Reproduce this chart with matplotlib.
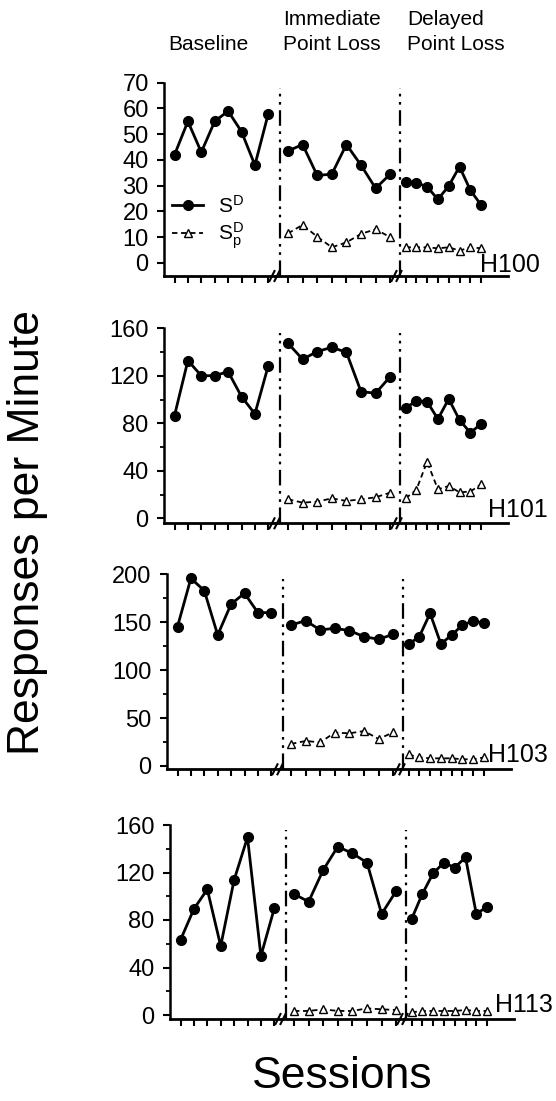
import numpy as np
import matplotlib.pyplot as plt
from matplotlib.lines import Line2D

plt.rcParams['font.family'] = ['Liberation Sans', 'DejaVu Sans']
plt.rcParams['mathtext.fontset'] = 'custom'
plt.rcParams['mathtext.rm'] = 'Liberation Sans'
plt.rcParams['mathtext.it'] = 'Liberation Sans:italic'

W, H = 556, 1101

# data (responses per minute, 8 sessions per phase)
sessions = np.arange(1, 9)
phases = ['Baseline', 'Immediate', 'Delayed']
subjects = ['H100', 'H101', 'H103', 'H113']

h100_sd_base = [42, 55, 43, 55, 59, 51, 38, 58]
h100_sd_ipl = [43.5, 46, 34, 34.5, 46, 38, 29, 34.5]
h100_sd_dpl = [31.6, 31.2, 29.6, 24.7, 29.9, 37.4, 28.3, 22.5]
h100_sdp_ipl = [11.5, 14.8, 10.2, 6.1, 8.0, 11.3, 13.1, 10.0]
h100_sdp_dpl = [6.1, 6.1, 6.1, 5.7, 6.1, 4.8, 6.1, 5.7]

h101_sd_base = [86.5, 132.8, 120.1, 120.1, 123.5, 102.5, 87.9, 128.6]
h101_sd_ipl = [147.4, 133.9, 140.4, 144.0, 139.8, 106.7, 105.3, 119.3]
h101_sd_dpl = [92.6, 99.1, 98.2, 83.6, 100.5, 82.8, 72.1, 79.4]
h101_sdp_ipl = [16.0, 13.2, 14.0, 16.8, 14.6, 16.0, 17.7, 21.6]
h101_sdp_dpl = [16.8, 23.9, 47.7, 24.4, 27.2, 21.9, 22.5, 28.6]

h103_sd_base = [145.4, 195.8, 182.9, 136.7, 169.0, 180.2, 160.0, 160.0]
h103_sd_ipl = [147.1, 151.6, 141.9, 143.7, 141.2, 135.0, 132.2, 137.4]
h103_sd_dpl = [126.9, 135.0, 159.3, 127.3, 136.7, 147.1, 151.3, 148.9]
h103_sdp_ipl = [23.0, 26.1, 24.7, 34.8, 34.1, 36.5, 28.2, 35.1]
h103_sdp_dpl = [12.0, 9.0, 8.0, 8.0, 8.0, 7.0, 7.0, 9.0]

h113_sd_base = [63.2, 89.3, 105.8, 58.1, 113.7, 149.6, 49.7, 89.8]
h113_sd_ipl = [101.9, 95.4, 122.1, 141.8, 136.1, 128.3, 85.1, 104.4]
h113_sd_dpl = [80.6, 101.9, 119.3, 128.3, 124.1, 132.8, 85.1, 91.2]
h113_sdp_ipl = [3.4, 3.4, 4.8, 3.4, 3.4, 5.6, 4.8, 4.2]
h113_sdp_dpl = [2.2, 3.4, 3.4, 3.4, 3.4, 4.2, 3.4, 3.4]

sd = {
    'H100': [h100_sd_base, h100_sd_ipl, h100_sd_dpl],
    'H101': [h101_sd_base, h101_sd_ipl, h101_sd_dpl],
    'H103': [h103_sd_base, h103_sd_ipl, h103_sd_dpl],
    'H113': [h113_sd_base, h113_sd_ipl, h113_sd_dpl],
}
sdp = {
    'H100': [None, h100_sdp_ipl, h100_sdp_dpl],
    'H101': [None, h101_sdp_ipl, h101_sdp_dpl],
    'H103': [None, h103_sdp_ipl, h103_sdp_dpl],
    'H113': [None, h113_sdp_ipl, h113_sdp_dpl],
}

# y axis setup per subject: top value, major ticks, minor step
ytop = {'H100': 70, 'H101': 160, 'H103': 200, 'H113': 160}
ymajor = {'H100': 10, 'H101': 40, 'H103': 50, 'H113': 40}
yminor = {'H100': None, 'H101': 20, 'H103': 25, 'H113': 20}

# layout in pixels (spine x, top px, zero px, axis px, label right, label bottom)
layout = {
    'H100': (164, 82.7, 263, 276, 540, 272),
    'H101': (164, 328.3, 518.3, 523.3, 548, 517),
    'H103': (167, 574.3, 766, 769.3, 548, 762),
    'H113': (170, 825, 1015, 1019, 553, 1012),
}
# phase geometry relative to the y spine: start, end, first point, spacing, phase line
phase_geom = [
    (0, 112, 10.5, 13.4, None),
    (112, 234, 124, 14.6, 116),
    (234, 344, 241.5, 10.8, 235.5),
]


def fx(x):
    return x / W


def fy(y):
    return 1 - y / H


fig = plt.figure(figsize=(W / 100, H / 100), dpi=100)

for subj in subjects:
    sx, top_px, zero_px, axis_px, lab_r, lab_b = layout[subj]
    ppu = (zero_px - top_px) / ytop[subj]
    ybottom = -(axis_px - zero_px) / ppu
    for k, (x0, x1, first, step, line) in enumerate(phase_geom):
        ax = fig.add_axes([fx(sx + x0), fy(axis_px), (x1 - x0) / W, (axis_px - top_px) / H])
        left = 1 - (first - x0) / step
        ax.set_xlim(left, left + (x1 - x0) / step)
        ax.set_ylim(ybottom, ytop[subj])
        ax.patch.set_visible(False)
        for s in ['top', 'right']:
            ax.spines[s].set_visible(False)
        ax.spines['bottom'].set_linewidth(2.0)
        ax.set_xticks(sessions)
        ax.set_xticklabels([])
        ax.tick_params(axis='x', direction='out', length=5, width=1.5)
        if k == 0:
            ax.spines['left'].set_linewidth(1.8)
            ax.set_yticks(np.arange(0, ytop[subj] + 1, ymajor[subj]))
            if yminor[subj]:
                ax.set_yticks(np.arange(0, ytop[subj] + 1, yminor[subj]), minor=True)
            ax.tick_params(axis='y', which='major', direction='out', length=5,
                           width=1.5, labelsize=17, pad=6)
            ax.tick_params(axis='y', which='minor', direction='out', length=3, width=1.3)
        else:
            ax.spines['left'].set_visible(False)
            ax.set_yticks([])
            ax.axvline(1 - (first - line) / step, ymin=0, ymax=0.975, color='black',
                       lw=1.6, linestyle=(0, (7, 2.5, 1.2, 2.5, 1.2, 2.5)))
        ax.plot(sessions, sd[subj][k], '-o', color='black', lw=2.0, ms=7, clip_on=False)
        if sdp[subj][k] is not None:
            ax.plot(sessions, sdp[subj][k], '--^', color='black', lw=1.3, ms=5.5,
                    mfc='white', mew=1.0, dashes=(3, 2), clip_on=False)
        if subj == 'H100' and k == 0:
            handles = [
                Line2D([], [], color='black', lw=2.0, marker='o', ms=7),
                Line2D([], [], color='black', lw=1.3, marker='^', ms=5.5, mfc='white',
                       mew=1.0, dashes=(3, 2)),
            ]
            ax.legend(handles, [r'S$^{\mathrm{D}}$', r'S$^{\mathrm{D}}_{\mathrm{p}}$'],
                      loc='center left', bbox_to_anchor=(fx(172), fy(223)),
                      bbox_transform=fig.transFigure, frameon=False, fontsize=15,
                      handlelength=1.5, handletextpad=0.7, labelspacing=0.2,
                      borderpad=0, borderaxespad=0)
    # break marks on the x axis
    for jx in (sx + 112, sx + 234):
        for off in (-4, 1):
            fig.add_artist(Line2D([fx(jx + off - 2.5), fx(jx + off + 2.5)],
                                  [fy(axis_px + 5), fy(axis_px - 5)],
                                  color='black', lw=1.5, transform=fig.transFigure))
    fig.text(fx(lab_r), fy(lab_b), subj, ha='right', va='baseline', fontsize=18)

# phase headers
fig.text(fx(208), fy(50), 'Baseline', ha='center', va='baseline', fontsize=15)
fig.text(fx(283), fy(25), 'Immediate', ha='left', va='baseline', fontsize=15)
fig.text(fx(283), fy(50), 'Point Loss', ha='left', va='baseline', fontsize=15)
fig.text(fx(407), fy(25), 'Delayed', ha='left', va='baseline', fontsize=15)
fig.text(fx(407), fy(50), 'Point Loss', ha='left', va='baseline', fontsize=15)

fig.text(fx(28), fy(533), 'Responses per Minute', rotation=90, ha='center', va='center',
         fontsize=32)
fig.text(fx(342), fy(1077), 'Sessions', ha='center', va='center', fontsize=32)

fig.savefig('out.png', dpi=100)
